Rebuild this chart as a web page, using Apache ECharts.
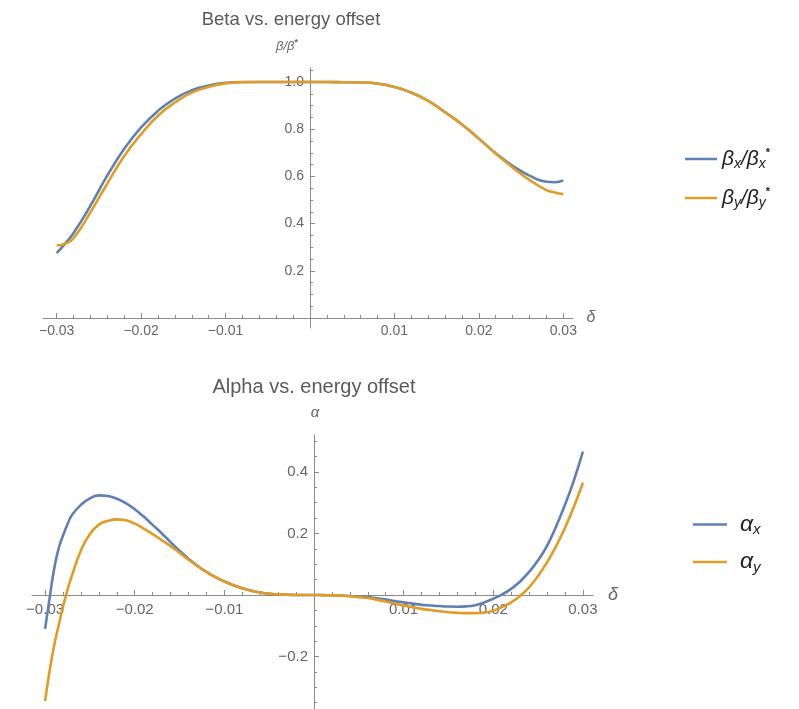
<!DOCTYPE html>
<html><head><meta charset="utf-8">
<script src="https://cdn.jsdelivr.net/npm/echarts@6/dist/echarts.min.js"></script>
<style>html,body{margin:0;padding:0;background:#fff}#c{width:799px;height:709px}</style>
</head><body><div id="c"></div>
<script>
// ---------- data ----------
const betaDelta = [-0.03, -0.029, -0.028, -0.026, -0.024, -0.022, -0.02, -0.018, -0.016, -0.014, -0.012, -0.01, -0.008, -0.006, -0.004, -0.002, 0, 0.002, 0.004, 0.006, 0.008, 0.01, 0.012, 0.014, 0.016, 0.018, 0.02, 0.022, 0.024, 0.026, 0.028, 0.029, 0.03];
const betaX = [0.275, 0.315, 0.36, 0.476, 0.604, 0.717, 0.808, 0.878, 0.93, 0.965, 0.985, 0.997, 1.0, 1.0, 1.0, 1.0, 1.0, 1.0, 0.999, 0.998, 0.993, 0.979, 0.955, 0.92, 0.872, 0.82, 0.76, 0.698, 0.645, 0.603, 0.577, 0.575, 0.583];
const betaY = [0.307, 0.315, 0.338, 0.448, 0.57, 0.686, 0.779, 0.857, 0.913, 0.955, 0.979, 0.994, 0.999, 1.0, 1.0, 1.0, 1.0, 1.0, 0.999, 0.998, 0.993, 0.979, 0.955, 0.92, 0.872, 0.82, 0.76, 0.696, 0.638, 0.585, 0.542, 0.532, 0.525];

const alphaDelta = [-0.03, -0.0295, -0.029, -0.0285, -0.028, -0.0275, -0.027, -0.026, -0.025, -0.024, -0.023, -0.022, -0.021, -0.02, -0.019, -0.018, -0.017, -0.016, -0.015, -0.014, -0.013, -0.012, -0.011, -0.01, -0.009, -0.008, -0.007, -0.006, -0.005, -0.004, -0.003, -0.002, -0.001, 0, 0.001, 0.002, 0.003, 0.004, 0.005, 0.006, 0.007, 0.008, 0.009, 0.01, 0.011, 0.012, 0.013, 0.014, 0.015, 0.016, 0.017, 0.018, 0.019, 0.02, 0.021, 0.022, 0.023, 0.024, 0.025, 0.026, 0.027, 0.028, 0.029, 0.03];
const alphaX = [-0.11, -0.011, 0.083, 0.15, 0.193, 0.23, 0.26, 0.293, 0.314, 0.324, 0.322, 0.313, 0.299, 0.279, 0.255, 0.228, 0.201, 0.172, 0.144, 0.118, 0.095, 0.075, 0.058, 0.044, 0.032, 0.022, 0.014, 0.008, 0.004, 0.002, 0.001, 0.0, 0.0, 0, -0.0005, -0.001, -0.002, -0.003, -0.005, -0.007, -0.011, -0.015, -0.02, -0.024, -0.028, -0.032, -0.034, -0.036, -0.0375, -0.038, -0.037, -0.033, -0.024, -0.012, 0.002, 0.02, 0.044, 0.075, 0.113, 0.16, 0.222, 0.293, 0.373, 0.466];
const alphaY = [-0.345, -0.248, -0.1655, -0.1005, -0.038, 0.017, 0.064, 0.145, 0.198, 0.229, 0.241, 0.246, 0.243, 0.232, 0.216, 0.198, 0.179, 0.159, 0.137, 0.115, 0.094, 0.075, 0.058, 0.044, 0.032, 0.022, 0.014, 0.008, 0.004, 0.002, 0.001, 0.0, 0.0, 0, -0.0005, -0.001, -0.002, -0.004, -0.007, -0.01, -0.015, -0.021, -0.028, -0.034, -0.04, -0.045, -0.049, -0.053, -0.056, -0.058, -0.059, -0.059, -0.057, -0.051, -0.039, -0.024, -0.003, 0.025, 0.062, 0.106, 0.158, 0.218, 0.287, 0.365];

const xTickValues = [-0.03, -0.02, -0.01, 0.01, 0.02, 0.03];
const xTickLabels = ['\u22120.03', '\u22120.02', '\u22120.01', '0.01', '0.02', '0.03'];
const betaYTickValues = [0.2, 0.4, 0.6, 0.8, 1.0];
const betaYTickLabels = ['0.2', '0.4', '0.6', '0.8', '1.0'];
const alphaYTickValues = [-0.2, 0.2, 0.4];
const alphaYTickLabels = ['\u22120.2', '0.2', '0.4'];

// ---------- styling ----------
const F = '"Liberation Sans", Arial, sans-serif';
const BLUE = '#5E81B5', ORANGE = '#E19C24';
const AXIS = '#8a8a8a', LABEL = '#666666';

function minors(lo, hi, step, major) {
  const out = [];
  for (let k = Math.ceil(lo / step - 1e-9); k * step <= hi + 1e-12; k++) {
    const v = +(k * step).toFixed(6);
    const r = v / major;
    if (Math.abs(r - Math.round(r)) > 1e-6) out.push(v);
  }
  return out;
}
function fmt(values, labels) {
  return function (v) {
    const i = values.findIndex(t => Math.abs(t - v) < 1e-9);
    return i >= 0 ? labels[i] : '';
  };
}
function axisPair(dim, gridIndex, min, max, offset, vals, labs, minorVals, fontSize, margin) {
  const position = dim === 'x' ? 'bottom' : 'left';
  return [{
    type: 'value', gridIndex, min, max, position, offset,
    axisLine: { onZero: false, lineStyle: { color: AXIS, width: 1 } },
    axisTick: { show: true, inside: true, length: 5, customValues: vals, lineStyle: { color: AXIS, width: 1 } },
    axisLabel: { customValues: vals, formatter: fmt(vals, labs), color: LABEL, fontSize, fontFamily: F, margin },
    splitLine: { show: false }
  }, {
    type: 'value', gridIndex, min, max, position, offset,
    axisLine: { show: false, onZero: false },
    axisTick: { show: true, inside: true, length: 3, customValues: minorVals, lineStyle: { color: AXIS, width: 1 } },
    axisLabel: { show: false },
    splitLine: { show: false }
  }];
}

const g0 = { left: 43, top: 68, width: 530, height: 260 };
const g1 = { left: 32, top: 435, width: 561, height: 274 };
const b = { xmin: -0.03162, xmax: 0.03115, ymin: -0.0424, ymax: 1.0593 };
const a = { xmin: -0.03146, xmax: 0.03113, ymin: -0.3707, ymax: 0.5203 };
// axes cross at the origin: shift each axis from the grid edge to the other axis' zero
const bxOff = -(0 - b.ymin) / (b.ymax - b.ymin) * g0.height;
const byOff = -(0 - b.xmin) / (b.xmax - b.xmin) * g0.width;
const axOff = -(0 - a.ymin) / (a.ymax - a.ymin) * g1.height;
const ayOff = -(0 - a.xmin) / (a.xmax - a.xmin) * g1.width;

const legendNames = {
  betaX: '{g|\u03b2}{s|x}{g|/\u03b2}{s|x}{p|*}',
  betaY: '{g|\u03b2}{s|y}{g|/\u03b2}{s|y}{p|*}',
  alphaX: '{g|\u03b1}{s|x}',
  alphaY: '{g|\u03b1}{s|y}'
};
const richTop = {
  g: { fontFamily: F, fontStyle: 'italic', fontSize: 21, color: '#222', lineHeight: 24, verticalAlign: 'middle' },
  s: { fontFamily: F, fontStyle: 'italic', fontSize: 14, color: '#222', lineHeight: 16, verticalAlign: 'bottom' },
  p: { fontFamily: F, fontSize: 11, fontWeight: 'bold', color: '#222', lineHeight: 12, verticalAlign: 'top' }
};
const richBottom = {
  g: { fontFamily: F, fontStyle: 'italic', fontSize: 23, color: '#222', lineHeight: 26, verticalAlign: 'middle', padding: [0, 0, 0, 8] },
  s: { fontFamily: F, fontStyle: 'italic', fontSize: 15, color: '#222', lineHeight: 17, verticalAlign: 'bottom' }
};

function lineSeries(name, xi, yi, deltas, vals, color) {
  return {
    name, type: 'line', xAxisIndex: xi, yAxisIndex: yi,
    data: deltas.map((d, i) => [d, vals[i]]),
    showSymbol: false, smooth: 0.5,
    lineStyle: { color, width: 2.6 }, itemStyle: { color },
    emphasis: { disabled: true }, animation: false
  };
}

const option = {
  backgroundColor: '#ffffff',
  animation: false,
  grid: [g0, g1],
  xAxis: [
    ...axisPair('x', 0, b.xmin, b.xmax, bxOff, xTickValues, xTickLabels, minors(b.xmin, b.xmax, 0.002, 0.01), 14, 6),
    ...axisPair('x', 1, a.xmin, a.xmax, axOff, xTickValues, xTickLabels, minors(a.xmin, a.xmax, 0.002, 0.01), 15, 7)
  ],
  yAxis: [
    ...axisPair('y', 0, b.ymin, b.ymax, byOff, betaYTickValues, betaYTickLabels, minors(b.ymin, b.ymax, 0.05, 0.2), 14, 6),
    ...axisPair('y', 1, a.ymin, a.ymax, ayOff, alphaYTickValues, alphaYTickLabels, minors(a.ymin, a.ymax, 0.05, 0.2), 15, 6)
  ],
  legend: [
    {
      data: ['betaX', 'betaY'], orient: 'vertical', left: 680, top: 142, itemGap: 15,
      icon: 'rect', itemWidth: 32, itemHeight: 2.5, selectedMode: false,
      formatter: n => legendNames[n], textStyle: { rich: richTop }
    },
    {
      data: ['alphaX', 'alphaY'], orient: 'vertical', left: 688, top: 508, itemGap: 13,
      icon: 'rect', itemWidth: 34, itemHeight: 2.5, selectedMode: false,
      formatter: n => legendNames[n], textStyle: { rich: richBottom }
    }
  ],
  graphic: [
    { type: 'text', x: 291, y: 20, style: { text: 'Beta vs. energy offset', fontFamily: F, fontSize: 18.5, fill: '#5a5a5a', align: 'center', verticalAlign: 'middle' } },
    { type: 'text', x: 287, y: 46, style: { text: '{i|\u03b2/\u03b2}{p|*}', align: 'center', verticalAlign: 'middle',
        rich: { i: { fontFamily: F, fontStyle: 'italic', fontSize: 13, fill: '#666', lineHeight: 16, verticalAlign: 'middle' },
                p: { fontFamily: F, fontSize: 9, fontWeight: 'bold', fill: '#666', lineHeight: 10, verticalAlign: 'top' } } } },
    { type: 'text', x: 591, y: 318, style: { text: '\u03b4', fontFamily: F, fontStyle: 'italic', fontSize: 16, fill: '#666', align: 'center', verticalAlign: 'middle' } },
    { type: 'text', x: 314, y: 387, style: { text: 'Alpha vs. energy offset', fontFamily: F, fontSize: 20, fill: '#5a5a5a', align: 'center', verticalAlign: 'middle' } },
    { type: 'text', x: 315, y: 413, style: { text: '\u03b1', fontFamily: F, fontStyle: 'italic', fontSize: 15, fill: '#666', align: 'center', verticalAlign: 'middle' } },
    { type: 'text', x: 613, y: 595, style: { text: '\u03b4', fontFamily: F, fontStyle: 'italic', fontSize: 18, fill: '#666', align: 'center', verticalAlign: 'middle' } }
  ],
  series: [
    lineSeries('betaX', 0, 0, betaDelta, betaX, BLUE),
    lineSeries('betaY', 0, 0, betaDelta, betaY, ORANGE),
    lineSeries('alphaX', 2, 2, alphaDelta, alphaX, BLUE),
    lineSeries('alphaY', 2, 2, alphaDelta, alphaY, ORANGE)
  ]
};
const chart = echarts.init(document.getElementById('c'), null, { renderer: 'canvas' });
chart.setOption(option);
</script></body></html>
